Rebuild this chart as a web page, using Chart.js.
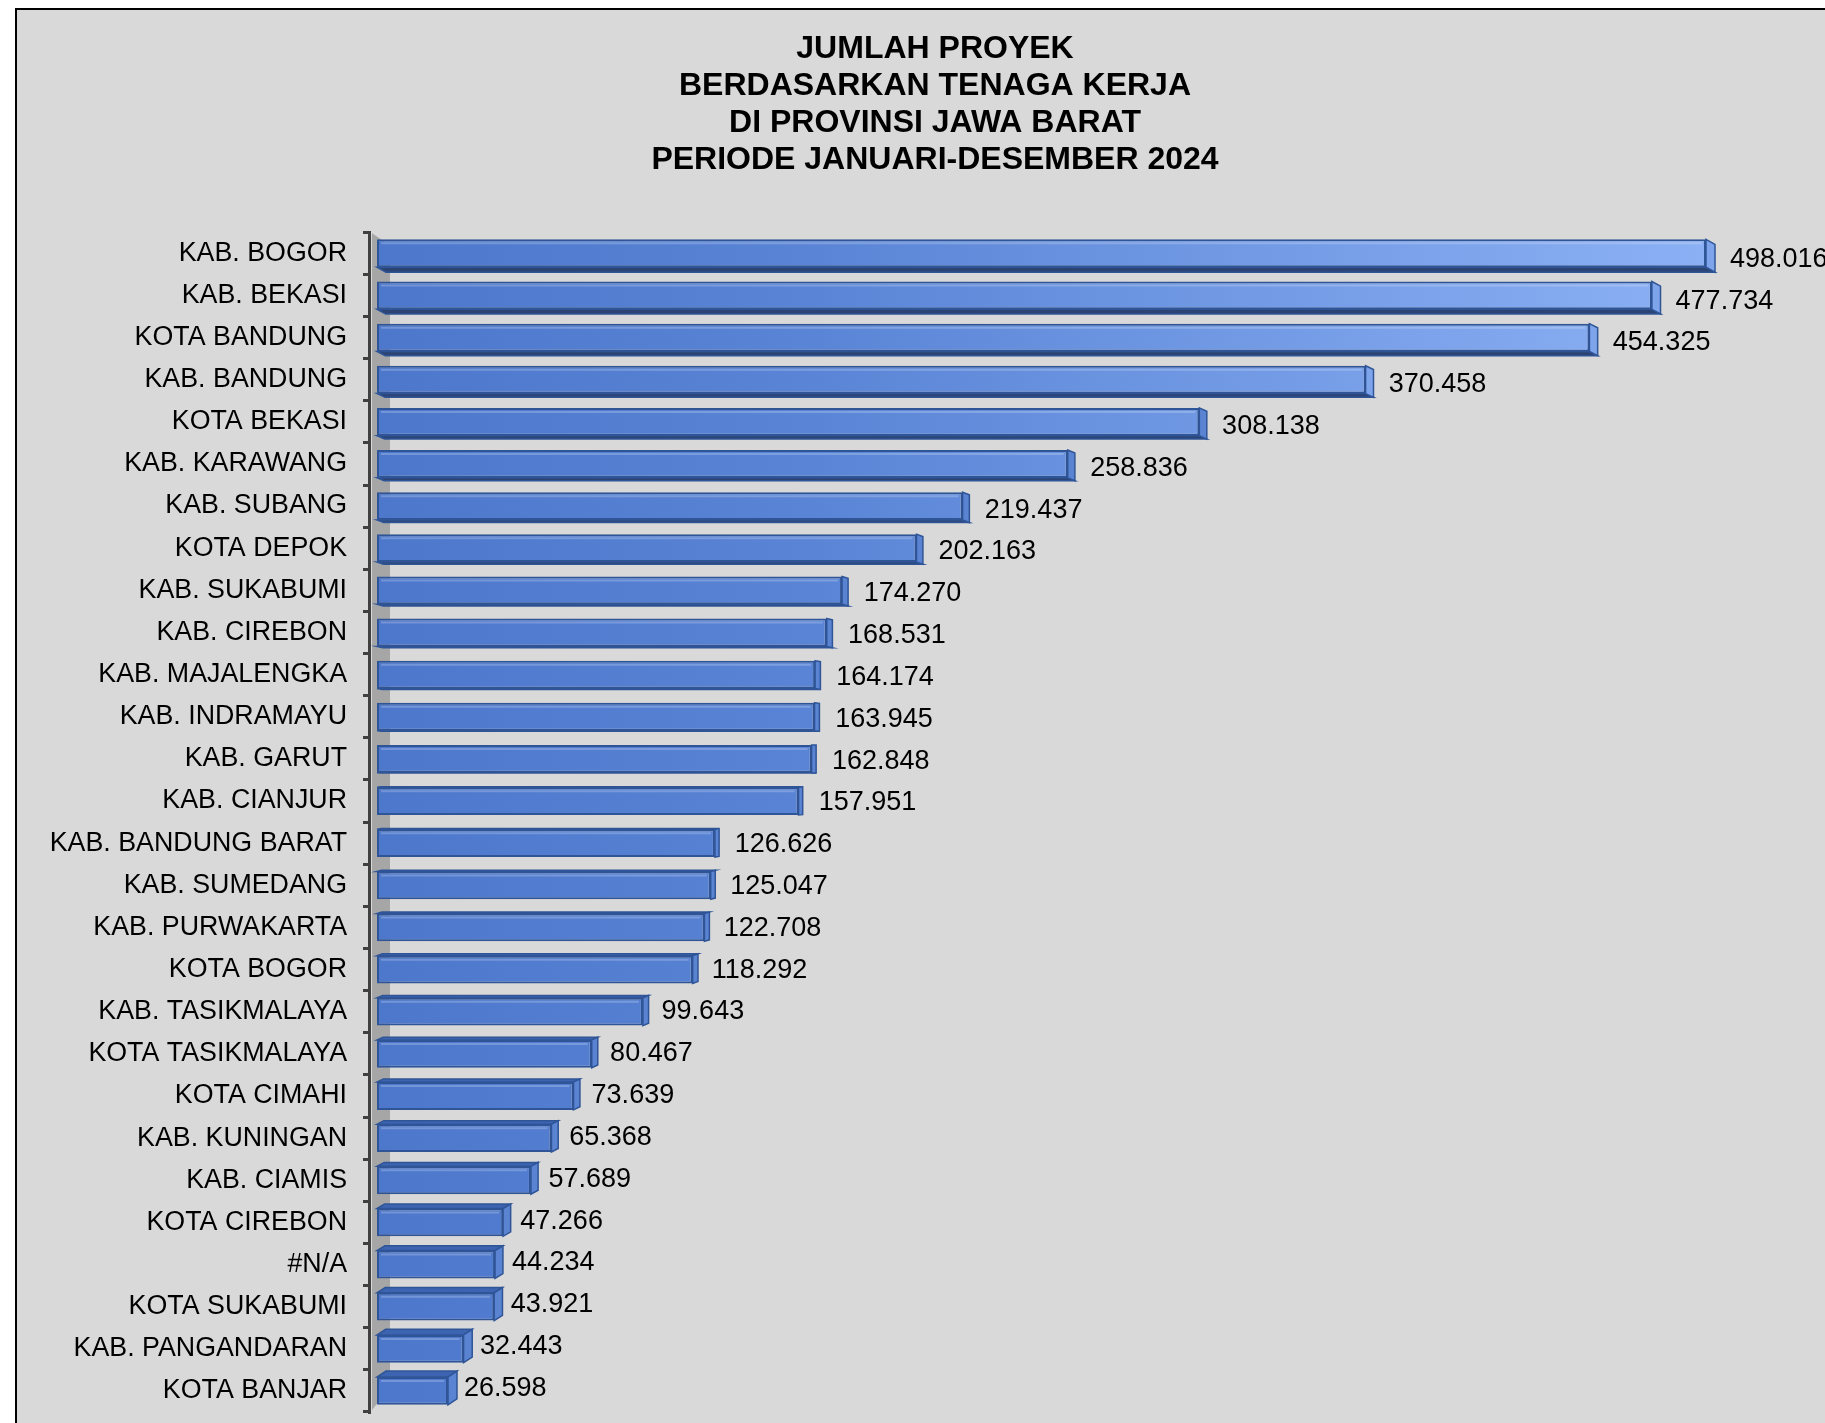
<!DOCTYPE html>
<html>
<head>
<meta charset="utf-8">
<script src="https://cdn.jsdelivr.net/npm/chart.js@4.4.1/dist/chart.umd.min.js"></script>
<style>
    html, body { margin: 0; padding: 0; background: #fff; overflow: hidden; }
    .chart-box {
        position: absolute;
        left: 15px;
        top: 8px;
        width: 1836px;
        height: 1440px;
        border: 2px solid #000;
        background: #d9d9d9;
    }
</style>
</head>
<body>
<div class="chart-box">
    <canvas id="proyekChart"></canvas>
</div>
<script>
// Data (nilai dalam satuan proyek)
const categories = [
    'KAB. BOGOR', 'KAB. BEKASI', 'KOTA BANDUNG', 'KAB. BANDUNG', 'KOTA BEKASI',
    'KAB. KARAWANG', 'KAB. SUBANG', 'KOTA DEPOK', 'KAB. SUKABUMI', 'KAB. CIREBON',
    'KAB. MAJALENGKA', 'KAB. INDRAMAYU', 'KAB. GARUT', 'KAB. CIANJUR', 'KAB. BANDUNG BARAT',
    'KAB. SUMEDANG', 'KAB. PURWAKARTA', 'KOTA BOGOR', 'KAB. TASIKMALAYA', 'KOTA TASIKMALAYA',
    'KOTA CIMAHI', 'KAB. KUNINGAN', 'KAB. CIAMIS', 'KOTA CIREBON', '#N/A',
    'KOTA SUKABUMI', 'KAB. PANGANDARAN', 'KOTA BANJAR'
];
const jumlahProyek = [
    498016, 477734, 454325, 370458, 308138,
    258836, 219437, 202163, 174270, 168531,
    164174, 163945, 162848, 157951, 126626,
    125047, 122708, 118292, 99643, 80467,
    73639, 65368, 57689, 47266, 44234,
    43921, 32443, 26598
];
const titleLines = [
    'JUMLAH PROYEK',
    'BERDASARKAN TENAGA KERJA',
    'DI PROVINSI JAWA BARAT',
    'PERIODE JANUARI-DESEMBER 2024'
];

const FONT = '"Liberation Sans", Arial, sans-serif';

function formatId(v) {
    return String(v).replace(/\B(?=(\d{3})+(?!\d))/g, '.');
}

// 3D look: wall, side faces, value labels
const depthPlugin = {
    id: 'depth3d',
    beforeDatasetsDraw(chart) {
        const ctx = chart.ctx;
        const a = chart.chartArea;
        ctx.save();
        ctx.fillStyle = '#a6a6a6';
        ctx.beginPath();
        ctx.moveTo(a.left + 3, a.top + 1);
        ctx.lineTo(a.left + 21, a.top + 13);
        ctx.lineTo(a.left + 21, a.bottom - 25);
        ctx.lineTo(a.left + 3, a.bottom - 2);
        ctx.closePath();
        ctx.fill();

        const bars = chart.getDatasetMeta(0).data;
        const n = bars.length;
        ctx.lineWidth = 1.5;
        ctx.strokeStyle = '#2f5597';
        bars.forEach((bar, i) => {
            const t = i / (n - 1);
            const dy = 5 - 11 * t;
            const dx = 4 + 5 * Math.abs(2 * t - 1);
            const x0 = bar.base, x1 = bar.x;
            const y0 = bar.y - bar.height / 2, y1 = bar.y + bar.height / 2;

            // top / bottom face
            ctx.beginPath();
            if (dy > 0) {
                ctx.moveTo(x0, y1); ctx.lineTo(x1, y1);
                ctx.lineTo(x1 + dx, y1 + dy); ctx.lineTo(x0 + dx, y1 + dy);
                ctx.fillStyle = '#2c4474';
            } else {
                ctx.moveTo(x0, y0); ctx.lineTo(x1, y0);
                ctx.lineTo(x1 + dx, y0 + dy); ctx.lineTo(x0 + dx, y0 + dy);
                ctx.fillStyle = '#3d64b0';
            }
            ctx.closePath();
            ctx.fill();
            ctx.stroke();

            // right face
            ctx.beginPath();
            ctx.moveTo(x1, y0); ctx.lineTo(x1 + dx, y0 + dy);
            ctx.lineTo(x1 + dx, y1 + dy); ctx.lineTo(x1, y1);
            ctx.closePath();
            ctx.fillStyle = x1 > a.left + (a.right - a.left) * 0.6 ? '#7ea4ec' : '#5a83d2';
            ctx.fill();
            ctx.stroke();
        });
        ctx.restore();
    },
    afterDatasetsDraw(chart) {
        const ctx = chart.ctx;
        const bars = chart.getDatasetMeta(0).data;
        const values = chart.data.datasets[0].data;
        const n = bars.length;
        ctx.save();
        bars.forEach((bar, i) => {
            const t = i / (n - 1);
            const y0 = bar.y - bar.height / 2;
            // bevel highlight
            ctx.strokeStyle = 'rgba(255,255,255,0.22)';
            ctx.lineWidth = 2;
            ctx.beginPath();
            ctx.moveTo(bar.base + 4, y0 + 4);
            ctx.lineTo(bar.x - 4, y0 + 4);
            ctx.stroke();

            ctx.font = '27px ' + FONT;
            ctx.fillStyle = '#000';
            ctx.textAlign = 'left';
            ctx.textBaseline = 'middle';
            ctx.fillText(formatId(values[i]), bar.x + 24 - 8 * t, bar.y + 6 - 8.5 * t);
        });
        ctx.restore();
    }
};

const ctx = document.getElementById('proyekChart').getContext('2d');

const proyekChart = new Chart(ctx, {
    type: 'bar',
    data: {
        labels: categories,
        datasets: [{
            label: 'Jumlah Proyek',
            data: jumlahProyek,
            backgroundColor: function (context) {
                const chart = context.chart;
                const a = chart.chartArea;
                if (!a) return '#5b85d5';
                const g = chart.ctx.createLinearGradient(a.left, 0, a.right, 0);
                g.addColorStop(0, '#4c77cb');
                g.addColorStop(0.3, '#5a85d6');
                g.addColorStop(0.9, '#8bb0f4');
                g.addColorStop(1, '#8fb3f6');
                return g;
            },
            borderColor: '#2f5597',
            borderWidth: 2,
            borderSkipped: false,
            barPercentage: 0.66,
            categoryPercentage: 1
        }]
    },
    options: {
        indexAxis: 'y',
        responsive: true,
        maintainAspectRatio: false,
        animation: false,
        layout: {
            padding: { left: 0, right: 0, top: 0, bottom: 38 }
        },
        scales: {
            x: {
                display: false,
                min: -3000,
                max: 553100
            },
            y: {
                afterFit: function (scale) { scale.width = 352; },
                grid: {
                    offset: true,
                    drawOnChartArea: false,
                    drawTicks: true,
                    tickLength: 6,
                    color: '#404040',
                    lineWidth: 3
                },
                border: { display: true, color: '#404040', width: 3 },
                ticks: {
                    color: '#000',
                    padding: 16,
                    font: { family: FONT, size: 26.8 }
                }
            }
        },
        plugins: {
            legend: { display: false },
            tooltip: { enabled: false },
            title: {
                display: true,
                text: titleLines,
                color: '#000',
                font: { family: FONT, size: 32, weight: 'bold', lineHeight: 1.15 },
                padding: { top: 21, bottom: 54 }
            }
        }
    },
    plugins: [depthPlugin]
});
</script>
</body>
</html>
